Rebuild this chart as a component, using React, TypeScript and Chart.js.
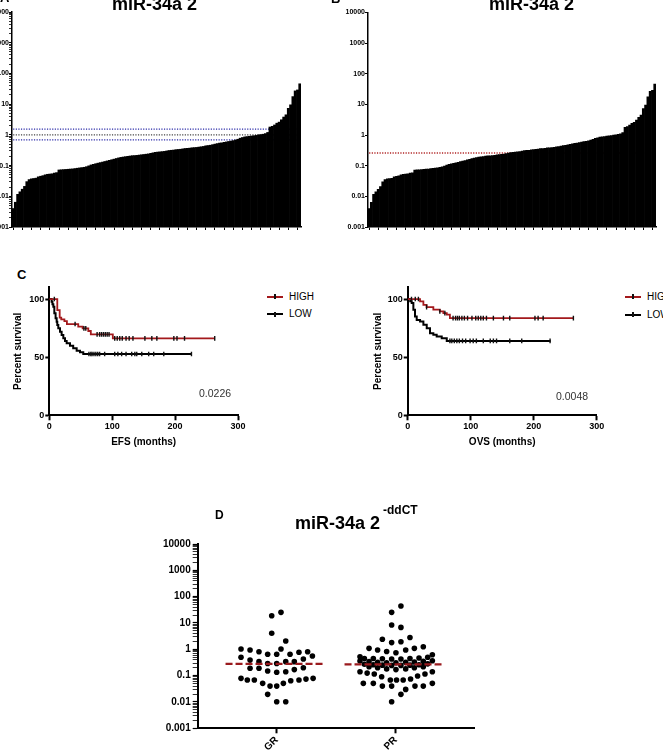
import React, { useEffect, useRef } from "react";
import { Chart, registerables } from "chart.js";

Chart.register(...registerables);
const FONT = '"Liberation Sans", Arial, Helvetica, sans-serif';
Chart.defaults.font.family = FONT;
Chart.defaults.color = "#000";

// ---------------- Data ----------------
// Panels A & B: sorted miR-34a expression per patient (2^-ddCT)
const expression = [
  0.004, 0.0064, 0.0116, 0.014, 0.017, 0.021, 0.03, 0.035,
  0.037, 0.038, 0.039, 0.043, 0.045, 0.047,
  0.05, 0.052, 0.053, 0.054, 0.057, 0.059,
  0.072, 0.073, 0.074, 0.075, 0.076, 0.077, 0.078,
  0.08, 0.082, 0.084, 0.086, 0.088, 0.092, 0.098,
  0.105, 0.11, 0.115, 0.12, 0.125, 0.13, 0.136, 0.142, 0.148,
  0.155, 0.162, 0.17, 0.178, 0.185, 0.19, 0.195, 0.2, 0.205,
  0.21, 0.212, 0.215, 0.22, 0.225, 0.23, 0.235, 0.24, 0.25,
  0.26, 0.27, 0.275, 0.28, 0.285, 0.29, 0.3,
  0.31, 0.315, 0.32, 0.33, 0.335, 0.34,
  0.35, 0.36, 0.365, 0.37, 0.38, 0.385, 0.39, 0.4, 0.41,
  0.42, 0.44, 0.45, 0.46, 0.48, 0.5,
  0.52, 0.54, 0.55, 0.57, 0.59, 0.61,
  0.63, 0.65, 0.68, 0.72, 0.78, 0.82, 0.86,
  0.88, 0.9, 0.92, 0.94, 0.96, 1.0, 1.02, 1.05, 1.1,
  1.2, 1.8, 1.9, 2.1, 2.4, 2.6, 3.1, 3.8, 4.5, 7.3, 9.5, 17.6, 27, 29, 46,
];
const patientLabels = expression.map((_, i) => String(i + 1));
const thresholdUpperA = 1.53;
const thresholdUnityA = 1.0;
const thresholdLowerA = 0.69;
const cutoffB = 0.26;

const logTickValues = [0.001, 0.01, 0.1, 1, 10, 100, 1000, 10000];
const logTickLabels = ["0.001", "0.01", "0.1", "1", "10", "100", "1000", "10000"];
const logMinorMultipliers = [2, 3, 4, 5, 6, 7, 8, 9];

// Panel C: Kaplan-Meier (months, percent survival)
const efsHighTime = [0, 12.7, 16.5, 19, 24, 28, 46, 53, 62, 66, 101, 263];
const efsHighSurv = [100, 90.5, 84, 82.5, 81, 78.5, 76.2, 74.8, 72.5, 69.6, 66.2, 66.2];
const efsHighCensor = [8, 41, 55, 58, 76, 80, 83, 86, 89, 92, 95, 104, 108, 112, 116, 122, 127, 133, 152, 163, 171, 198, 203, 215, 263];
const efsLowTime = [0, 3.7, 5, 6.4, 8, 10, 11.7, 12.7, 14.3, 17, 19.6, 22.3, 25, 27.6, 32.9, 38, 43.5, 48.8, 54, 226];
const efsLowSurv = [100, 97.7, 95.5, 93.4, 87.7, 83.4, 80.5, 77.7, 74.8, 71.9, 69, 66.2, 63.9, 61.9, 59.9, 57.6, 55.6, 54.2, 52.7, 52.7];
const efsLowCensor = [63, 66, 68, 71, 74, 77, 80, 88, 104, 109, 115, 122, 131, 136, 139, 147, 158, 166, 182, 226];

const ovsHighTime = [0, 19.6, 24.9, 30, 40.7, 51, 56.6, 62, 67, 263];
const ovsHighSurv = [100, 98, 95, 93, 90.8, 89.3, 87.9, 86.5, 83.6, 83.6];
const ovsHighCensor = [6, 12, 17, 30, 51, 59, 72, 76, 79, 82, 86, 90, 95, 102, 108, 112, 116, 120, 125, 136, 152, 162, 202, 207, 215, 263];
const ovsLowTime = [0, 4, 6.3, 9, 11.6, 14.3, 19.6, 24.9, 30.2, 35.4, 40.7, 46, 54, 62, 227];
const ovsLowSurv = [100, 98, 96.5, 90.8, 85, 82, 80.7, 77.8, 74.9, 70.6, 69.2, 67.7, 66.3, 64, 64];
const ovsLowCensor = [67, 70, 74, 78, 82, 87, 92, 99, 104, 109, 120, 131, 136, 141, 162, 181, 226];

const kmXTicks = [0, 100, 200, 300];
const kmYTicks = [0, 50, 100];
const pValueEFS = "0.0226";
const pValueOVS = "0.0048";

// Panel D: scatter dot plot by response group
const groups = ["GR", "PR"];
const grValues = [
  18.9, 25.4, 4.05, 2.07,
  1.03, 0.94, 0.81, 0.65, 0.65, 1.03, 0.65, 0.77, 0.81,
  0.5, 0.39, 0.34, 0.29, 0.29, 0.34, 0.34, 0.43, 0.56,
  0.19, 0.19, 0.15, 0.134, 0.14, 0.17, 0.2,
  0.079, 0.068, 0.068, 0.051, 0.04, 0.04, 0.051, 0.064, 0.068, 0.074, 0.079,
  0.0195, 0.0102, 0.0102,
];
const grJitter = [
  -0.042, 0.036, -0.042, 0.076,
  -0.3, -0.224, -0.149, -0.076, 0, 0.036, 0.112, 0.187, 0.26,
  -0.3, -0.224, -0.149, -0.076, 0, 0.076, 0.148, 0.224, 0.3,
  -0.224, -0.149, -0.076, 0, 0.076, 0.148, 0.224,
  -0.3, -0.247, -0.188, -0.118, -0.056, 0, 0.056, 0.118, 0.187, 0.246, 0.306,
  -0.076, 0, 0.076,
];
const prValues = [
  44, 25.4, 8.4, 6.8, 2.4, 2.8, 1.8, 1.95,
  1.09, 0.94, 0.83, 0.74, 0.94, 1.09, 1.25,
  0.52, 0.62, 0.45, 0.45, 0.44, 0.43, 0.43, 0.45, 0.47, 0.5,
  0.36, 0.34, 0.32, 0.31, 0.31, 0.32, 0.33, 0.35, 0.37,
  0.27, 0.26, 0.25, 0.245, 0.245, 0.25, 0.26, 0.28,
  0.22, 0.2, 0.18, 0.17, 0.18, 0.2, 0.22,
  0.14, 0.125, 0.115, 0.091, 0.068, 0.068, 0.068, 0.075, 0.097, 0.115, 0.14,
  0.051, 0.051, 0.04, 0.04, 0.04, 0.04, 0.051, 0.03, 0.0195, 0.0102,
];
const prJitter = [
  0.044, -0.034, -0.034, 0.044, -0.112, 0.12, -0.034, 0.044,
  -0.224, -0.152, -0.076, 0.002, 0.084, 0.157, 0.232,
  -0.3, 0.308, -0.263, -0.188, -0.112, -0.034, 0.044, 0.12, 0.196, 0.269,
  -0.3, -0.224, -0.152, -0.076, 0.002, 0.084, 0.157, 0.232, 0.308,
  -0.263, -0.188, -0.112, -0.034, 0.044, 0.12, 0.196, 0.269,
  -0.224, -0.152, -0.076, 0.002, 0.084, 0.157, 0.232,
  -0.3, -0.24, -0.18, -0.118, -0.045, 0.007, 0.063, 0.125, 0.184, 0.246, 0.308,
  -0.272, -0.188, -0.112, -0.034, 0.162, 0.232, 0.308, 0.084, 0.044, -0.034,
];
const medianGR = 0.28;
const medianPR = 0.27;

// ---------------- Helpers ----------------
const RED = "#a3191c";
const DARK_RED = "#9a1a1e";
const BLUE = "#2a2aa8";

const logAllTicks = (() => {
  const out: number[] = [];
  logTickValues.forEach((d, i) => {
    out.push(d);
    if (i < logTickValues.length - 1) logMinorMultipliers.forEach((m) => out.push(Number((m * d).toPrecision(3))));
  });
  return out;
})();

function logAxis(width: number, fontSize: number, tickLen: number, minor: boolean, pad: number, borderW: number) {
  const values = minor ? logAllTicks : logTickValues;
  return {
    type: "logarithmic",
    position: "left",
    min: 0.001,
    max: 10000,
    afterBuildTicks: (s: any) => {
      s.ticks = values.map((v) => ({ value: v }));
    },
    afterFit: (s: any) => {
      s.width = width;
    },
    ticks: {
      autoSkip: false,
      padding: pad,
      color: "#000",
      font: { size: fontSize, weight: "bold" },
      callback: (v: number) => {
        const i = logTickValues.indexOf(v);
        return i >= 0 ? logTickLabels[i] : "";
      },
    },
    grid: {
      drawOnChartArea: false,
      drawTicks: true,
      tickLength: tickLen,
      tickColor: "#000",
      tickWidth: (c: any) => (logTickValues.indexOf(c.tick ? c.tick.value : -1) >= 0 ? 1.2 : 0.8),
    },
    border: { display: true, color: "#000", width: borderW },
  };
}

function barConfig(lines: { value: number; color: string }[], yWidth: number, padTop: number, minor: boolean) {
  return {
    type: "bar",
    data: {
      labels: patientLabels,
      datasets: [
        {
          type: "bar",
          data: expression,
          backgroundColor: "#000",
          borderWidth: 0,
          barPercentage: 1,
          categoryPercentage: 1,
          order: 0,
        },
        ...lines.map((l) => ({
          type: "line",
          data: expression.map(() => l.value),
          borderColor: l.color,
          borderWidth: 1.3,
          borderDash: [1.2, 1.4],
          pointRadius: 0,
          fill: false,
          order: 1,
        })),
      ],
    },
    options: {
      responsive: false,
      animation: false,
      layout: { padding: { left: 0, right: 2, top: padTop, bottom: 0 }, autoPadding: false },
      plugins: { legend: { display: false }, tooltip: { enabled: false } },
      scales: {
        x: {
          type: "category",
          offset: true,
          afterFit: (s: any) => {
            s.height = 8;
          },
          ticks: { display: false, autoSkip: false },
          grid: {
            drawOnChartArea: false,
            drawTicks: true,
            offset: false,
            tickLength: 3,
            tickWidth: 1,
            tickColor: (c: any) => (c.index % 4 === 0 ? "#000" : "rgba(0,0,0,0)"),
          },
          border: { display: true, color: "#000", width: 1.5 },
        },
        y: logAxis(yWidth, 7, 3, minor, 0, 1.5),
      },
    },
  };
}

function survivalAt(times: number[], surv: number[], t: number) {
  let s = surv[0];
  for (let i = 0; i < times.length; i++) if (times[i] <= t) s = surv[i];
  return s;
}

function kmConfig(
  hT: number[], hS: number[], hC: number[],
  lT: number[], lS: number[], lC: number[],
  xTitle: string, yWidth: number, padLeft: number, padRight: number
) {
  const line = (T: number[], S: number[], color: string, w: number, order: number) => ({
    type: "line",
    data: T.map((t, i) => ({ x: t, y: S[i] })),
    borderColor: color,
    borderWidth: w,
    stepped: "before",
    pointRadius: 0,
    fill: false,
    order,
  });
  const cens = (T: number[], S: number[], C: number[], order: number) => ({
    type: "scatter",
    data: C.map((t) => ({ x: t, y: survivalAt(T, S, t) })),
    showLine: false,
    pointStyle: "line",
    pointRotation: 90,
    pointRadius: 2.3,
    pointBorderWidth: 1.4,
    pointBorderColor: "#111",
    borderColor: "#111",
    order,
  });
  return {
    type: "line",
    data: {
      datasets: [
        line(lT, lS, "#000", 2, 3),
        line(hT, hS, RED, 1.8, 2),
        cens(lT, lS, lC, 1),
        cens(hT, hS, hC, 0),
      ],
    },
    options: {
      responsive: false,
      animation: false,
      layout: { padding: { left: padLeft, right: padRight, top: 7.4, bottom: 0 }, autoPadding: false },
      plugins: { legend: { display: false }, tooltip: { enabled: false } },
      scales: {
        x: {
          type: "linear",
          min: 0,
          max: 300,
          afterBuildTicks: (s: any) => {
            s.ticks = kmXTicks.map((v) => ({ value: v }));
          },
          afterFit: (s: any) => {
            s.height = 32.7;
          },
          ticks: { color: "#000", padding: 1, font: { size: 9, weight: "bold" } },
          grid: { drawOnChartArea: false, drawTicks: true, tickLength: 5, tickColor: "#000", tickWidth: 2 },
          border: { display: true, color: "#000", width: 2 },
          title: { display: true, text: xTitle, color: "#000", font: { size: 10, weight: "bold" }, padding: 0 },
        },
        y: {
          type: "linear",
          min: 0,
          max: 110,
          afterBuildTicks: (s: any) => {
            s.ticks = kmYTicks.map((v) => ({ value: v }));
          },
          afterFit: (s: any) => {
            s.width = yWidth;
          },
          ticks: { color: "#000", padding: 1, font: { size: 9, weight: "bold" } },
          grid: { drawOnChartArea: false, drawTicks: true, tickLength: 4, tickColor: "#000", tickWidth: 2 },
          border: { display: true, color: "#000", width: 2 },
          title: { display: true, text: "Percent survival", color: "#000", font: { size: 10, weight: "bold" }, padding: 0 },
        },
      },
    },
  };
}

function dotConfig() {
  const pts = (vals: number[], jit: number[], g: number) => vals.map((v, i) => ({ x: g + jit[i], y: v }));
  const med = (m: number, g: number) => ({
    type: "line",
    data: [
      { x: g - 0.43, y: m },
      { x: g + 0.41, y: m },
    ],
    borderColor: DARK_RED,
    borderWidth: 2.2,
    borderDash: [7, 3],
    pointRadius: 0,
    fill: false,
    order: 0,
  });
  const dots = (d: any[]) => ({
    type: "scatter",
    data: d,
    pointRadius: 2.8,
    pointBackgroundColor: "#000",
    backgroundColor: "#000",
    pointBorderWidth: 0,
    borderWidth: 0,
    order: 1,
  });
  return {
    type: "scatter",
    data: {
      datasets: [
        med(medianGR, 0),
        med(medianPR, 1),
        dots(pts(grValues, grJitter, 0)),
        dots(pts(prValues, prJitter, 1)),
      ],
    },
    options: {
      responsive: false,
      animation: false,
      layout: { padding: { left: 0, right: 5.3, top: 9, bottom: 0 }, autoPadding: false },
      plugins: { legend: { display: false }, tooltip: { enabled: false } },
      scales: {
        x: {
          type: "linear",
          min: -0.664,
          max: 1.664,
          afterBuildTicks: (s: any) => {
            s.ticks = groups.map((_, i) => ({ value: i }));
          },
          afterFit: (s: any) => {
            s.height = 27.7;
          },
          ticks: {
            autoSkip: false,
            minRotation: 45,
            maxRotation: 45,
            padding: 1,
            color: "#000",
            font: { size: 10, weight: "bold" },
            callback: (v: number) => groups[v] ?? "",
          },
          grid: { drawOnChartArea: false, drawTicks: true, tickLength: 5, tickColor: "#000", tickWidth: 2 },
          border: { display: true, color: "#000", width: 2 },
        },
        y: logAxis(47.7, 10, 5, true, 2, 2),
      },
    },
  };
}

// ---------------- Components ----------------
function ChartCanvas({ x, y, w, h, make }: any) {
  const ref = useRef<HTMLCanvasElement>(null);
  useEffect(() => {
    const c = new Chart(ref.current as HTMLCanvasElement, make());
    return () => c.destroy();
  }, []);
  return (
    <div style={{ position: "absolute", left: x, top: y, width: w, height: h }}>
      <canvas ref={ref} width={w} height={h} />
    </div>
  );
}

function Txt({ x, y, size, bold, color, children }: any) {
  return (
    <div
      style={{
        position: "absolute",
        left: x,
        top: y,
        fontFamily: FONT,
        fontSize: size,
        fontWeight: bold ? "bold" : "normal",
        color: color || "#000",
        lineHeight: 1,
        whiteSpace: "nowrap",
      }}
    >
      {children}
    </div>
  );
}

function LegendItem({ x, y, color, label }: any) {
  return (
    <>
      <div style={{ position: "absolute", left: x, top: y - 1, width: 16, height: 2, background: color }} />
      <div style={{ position: "absolute", left: x + 7.3, top: y - 2.6, width: 1.5, height: 5, background: "#111" }} />
      <Txt x={x + 22} y={y - 4.9} size={10}>
        {label}
      </Txt>
    </>
  );
}

export default function App() {
  return (
    <div
      style={{
        position: "absolute",
        left: 0,
        top: 0,
        width: 663,
        height: 756,
        overflow: "hidden",
        background: "#fff",
      }}
    >
      {/* Panel A */}
      <ChartCanvas
        x={-30}
        y={0}
        w={333}
        h={235}
        make={() =>
          barConfig(
            [
              { value: thresholdUpperA, color: BLUE },
              { value: thresholdUnityA, color: "#444" },
              { value: thresholdLowerA, color: BLUE },
            ],
            42,
            12,
            true
          )
        }
      />
      <Txt x={0} y={-9} size={13} bold>
        A
      </Txt>
      <Txt x={112} y={-5.2} size={18} bold>
        miR-34a 2
      </Txt>

      {/* Panel B */}
      <ChartCanvas x={330} y={0} w={328} h={235} make={() => barConfig([{ value: cutoffB, color: "#b02424" }], 38, 12.5, false)} />
      <Txt x={331} y={-8} size={13} bold>
        B
      </Txt>
      <Txt x={489} y={-5.2} size={18} bold>
        miR-34a 2
      </Txt>

      {/* Panel C */}
      <Txt x={17} y={268.3} size={13} bold>
        C
      </Txt>
      <ChartCanvas
        x={0}
        y={280}
        w={252}
        h={168}
        make={() =>
          kmConfig(efsHighTime, efsHighSurv, efsHighCensor, efsLowTime, efsLowSurv, efsLowCensor, "EFS (months)", 37, 12.3, 14)
        }
      />
      <LegendItem x={267} y={296.7} color={RED} label="HIGH" />
      <LegendItem x={267} y={314.3} color="#000" label="LOW" />
      <Txt x={199} y={388} size={10.5} color="#333">
        {pValueEFS}
      </Txt>

      <ChartCanvas
        x={360}
        y={280}
        w={252}
        h={168}
        make={() =>
          kmConfig(ovsHighTime, ovsHighSurv, ovsHighCensor, ovsLowTime, ovsLowSurv, ovsLowCensor, "OVS (months)", 35.9, 11.8, 15.3)
        }
      />
      <LegendItem x={625} y={296.7} color={RED} label="HIGH" />
      <LegendItem x={625} y={315} color="#000" label="LOW" />
      <Txt x={556} y={390.6} size={10.5} color="#333">
        {pValueOVS}
      </Txt>

      {/* Panel D */}
      <Txt x={215} y={509.3} size={12} bold>
        D
      </Txt>
      <Txt x={295} y={513.8} size={18} bold>
        miR-34a 2
      </Txt>
      <Txt x={383} y={503.8} size={12} bold>
        -ddCT
      </Txt>
      <ChartCanvas x={150} y={535} w={330} h={221} make={dotConfig} />
    </div>
  );
}
